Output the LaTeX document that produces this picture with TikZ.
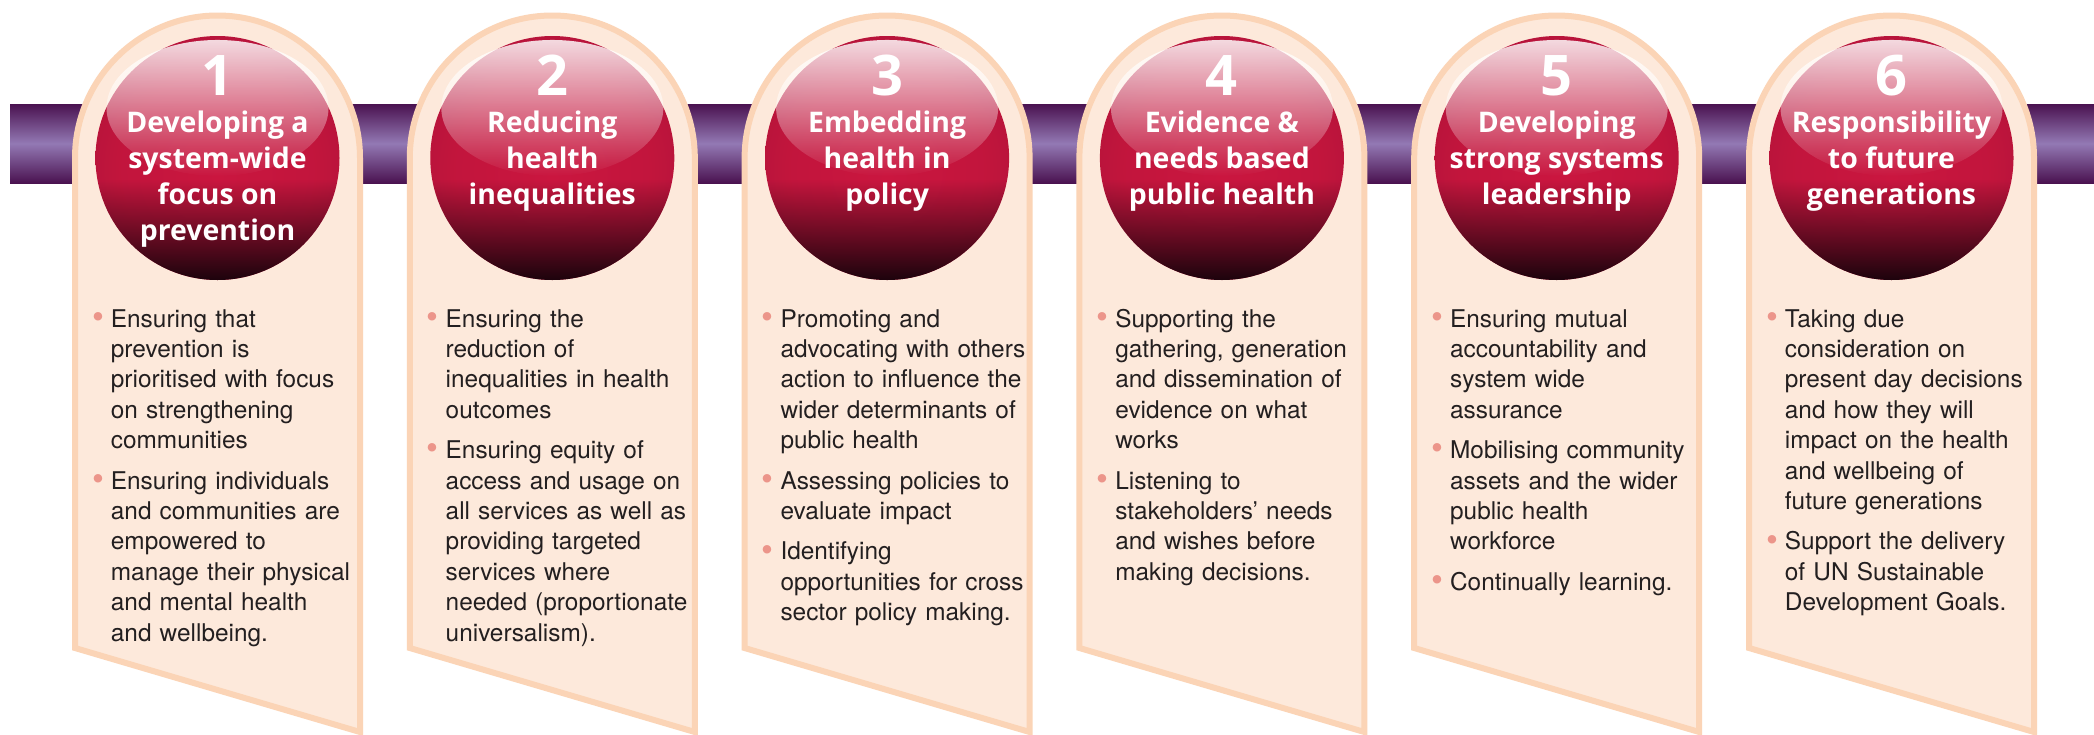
\documentclass[tikz,border=0pt]{standalone}
\usepackage{fontspec}
\setmainfont{TeX Gyre Heros}
\newfontfamily\headfont{Open Sans}
\usetikzlibrary{positioning,fadings}

\definecolor{banddark}{HTML}{4A1250}
\definecolor{bandlight}{HTML}{9379B4}
\definecolor{panelfill}{HTML}{FDE9DB}
\definecolor{paneledge}{HTML}{FBD4B6}
\definecolor{ballred}{HTML}{CA163F}
\definecolor{ballrim}{HTML}{9A1036}
\definecolor{balldark}{HTML}{1A030C}
\definecolor{dotpink}{HTML}{EC958A}
\definecolor{inkblack}{HTML}{231F20}

\pgfdeclareradialshading{ballshade}{\pgfpoint{0bp}{-4bp}}{%
  color(0bp)=(ballred); color(20bp)=(ballred!96!black);
  color(38bp)=(ballrim!70!ballred); color(47bp)=(ballrim!85!black); color(50bp)=(ballrim!65!black)}
\tikzfading[name=glossfade, top color=transparent!16, bottom color=transparent!100]
\tikzfading[name=lowfade, top color=transparent!100, middle color=transparent!75, bottom color=transparent!0]

\newcommand\dotmark{\llap{\raisebox{-0.6pt}{\textcolor{dotpink}{\fontsize{17}{17}\selectfont\textbullet}}\hspace{3.5pt}}}
\newcommand\firstdot{\noindent\dotmark}
\newcommand\nextdot{\par\vspace{5pt}\noindent\dotmark}

\tikzset{
  panel/.style={fill=panelfill, draw=paneledge, line width=3pt},
  ball/.style={circle, minimum size=122pt, inner sep=0pt, shading=ballshade},
  numtext/.style={text=white, font=\headfont\bfseries\fontsize{28}{28}\selectfont, inner sep=0pt, anchor=base},
  headtext/.style={text=white, font=\headfont\bfseries\fontsize{14.2}{18}\selectfont, inner sep=0pt, anchor=base},
  listtext/.style={text=inkblack, font=\fontsize{12.2}{15.2}\selectfont, text width=135pt, align=left, inner sep=0pt, anchor=base west}
}

\begin{document}
\begin{tikzpicture}[x=0.5pt, y=-0.5pt]
  \useasboundingbox (0,0) rectangle (2094,734);
  \fill[white] (0,0) rectangle (2094,734);

  \shade[top color=banddark, bottom color=banddark, middle color=bandlight] (10,104) rectangle (2094,183);

  \foreach \i/\head/\items in {
    1/{Developing a\\system-wide\\focus on\\prevention}/{\firstdot Ensuring that\\prevention is\\prioritised with focus\\on strengthening\\communities\nextdot Ensuring individuals\\and communities are\\empowered to\\manage their physical\\and mental health\\and wellbeing.},
    2/{Reducing\\health\\inequalities}/{\firstdot Ensuring the\\reduction of\\inequalities in health\\outcomes\nextdot Ensuring equity of\\access and usage on\\all services as well as\\providing targeted\\services where\\needed (proportionate\\universalism).},
    3/{Embedding\\health in\\policy}/{\firstdot Promoting and\\advocating with others\\action to influence the\\wider determinants of\\public health\nextdot Assessing policies to\\evaluate impact\nextdot Identifying\\opportunities for cross\\sector policy making.},
    4/{Evidence \&\\needs based\\public health}/{\firstdot Supporting the\\gathering, generation\\and dissemination of\\evidence on what\\works\nextdot Listening to\\stakeholders’ needs\\and wishes before\\making decisions.},
    5/{Developing\\strong systems\\leadership}/{\firstdot Ensuring mutual\\accountability and\\system wide\\assurance\nextdot Mobilising community\\assets and the wider\\public health\\workforce\nextdot Continually learning.},
    6/{Responsibility\\to future\\generations}/{\firstdot Taking due\\consideration on\\present day decisions\\and how they will\\impact on the health\\and wellbeing of\\future generations\nextdot Support the delivery\\of UN Sustainable\\Development Goals.}}{
    \pgfmathsetmacro\cx{217.5+334.8*(\i-1)}
    \pgfmathsetmacro\lx{\cx-142.5}
    \pgfmathsetmacro\rx{\cx+142.5}
    \pgfmathsetmacro\tx{\cx-107}

    \path[panel] (\lx,648) -- (\lx,158) arc[start angle=180, end angle=360, radius=142.5] -- (\rx,732) -- cycle;

    \node[ball] (ball\i) at (\cx,158) {};
    \begin{scope}
      \clip (\cx,158) circle [radius=122];
      \fill[balldark, path fading=lowfade] (\lx,180) rectangle (\rx,282);
    \end{scope}
    \fill[white, path fading=glossfade] (\cx,108) ellipse [x radius=111, y radius=68];

    \node[numtext] (num\i) at (\cx,95) {\i};
    \node[headtext] (head\i) at (\cx,132) {\begin{tabular}[t]{@{}c@{}}\head\end{tabular}};
    \node[listtext] (list\i) at (\tx,327) {\items};
  }
\end{tikzpicture}
\end{document}
